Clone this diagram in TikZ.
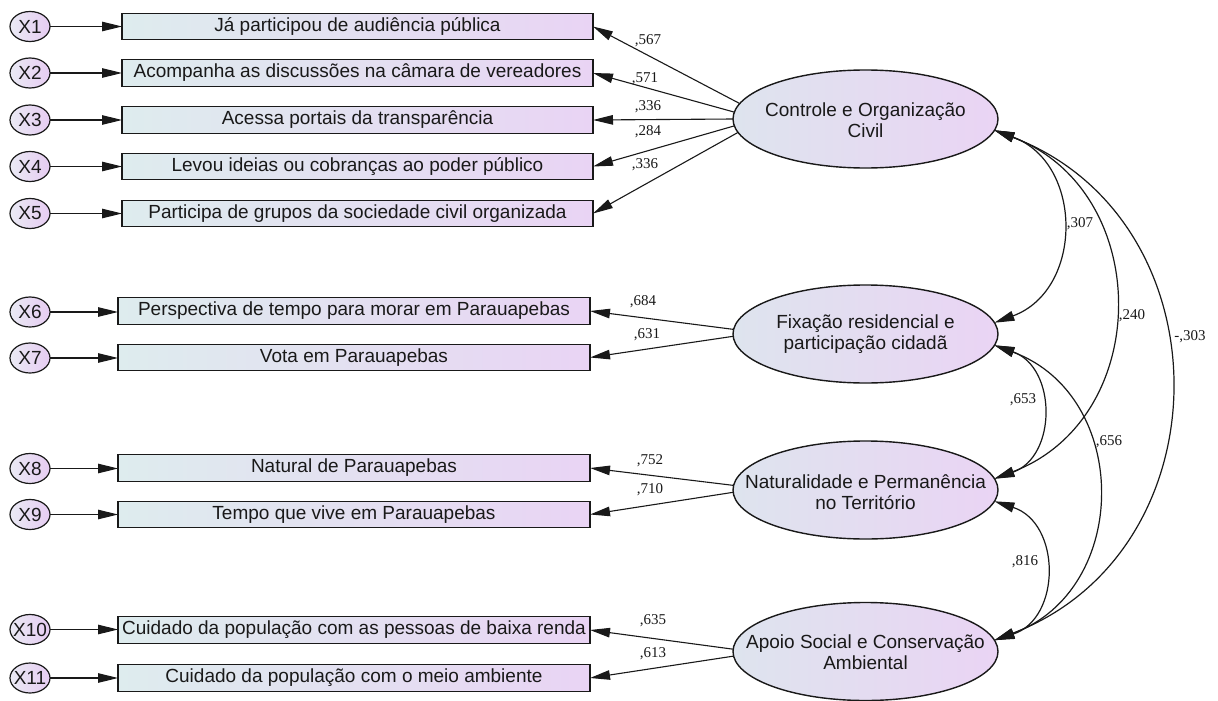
\documentclass[tikz,border=0pt]{standalone}
\usepackage{fontspec}
\setmainfont{Liberation Sans}
\newfontfamily\coeffont{Liberation Serif}
\usetikzlibrary{shapes.geometric,arrows.meta}
\definecolor{boxL}{RGB}{222,236,238}
\definecolor{boxR}{RGB}{233,212,244}
\definecolor{latL}{RGB}{222,228,238}
\definecolor{latR}{RGB}{234,212,244}
\definecolor{errL}{RGB}{234,234,244}
\definecolor{errR}{RGB}{230,204,242}
\definecolor{ink}{RGB}{25,25,25}
\begin{document}
\begin{tikzpicture}[x=1pt,y=1pt,
  obs/.style={draw=ink, line width=1.4pt, left color=boxL, right color=boxR,
    minimum width=472pt, minimum height=26.5pt, inner sep=1pt, outer sep=0pt,
    text=ink, font=\fontsize{19}{22}\selectfont},
  lat/.style={ellipse, draw=ink, line width=1.4pt, left color=latL, right color=latR,
    minimum width=265pt, minimum height=98pt, inner sep=0pt, outer sep=0pt},
  lattext/.style={align=center, text=ink, inner sep=0pt, font=\fontsize{19}{21}\selectfont},
  err/.style={ellipse, draw=ink, line width=1.2pt, left color=errL, right color=errR,
    minimum width=40pt, minimum height=30pt, inner sep=0pt, outer sep=0pt},
  errtext/.style={text=ink, inner sep=0pt, font=\fontsize{19}{21}\selectfont},
  load/.style={draw=ink, line width=1.1pt, -{Triangle[length=20pt,width=9.5pt]}},
  cov/.style={draw=ink, line width=1.2pt, {Triangle[length=20pt,width=10pt]}-{Triangle[length=20pt,width=10pt]}},
  coef/.style={text=ink, inner sep=0pt, font=\coeffont\fontsize{15}{16}\selectfont}
]
\useasboundingbox (0,0) rectangle (1218,-701);

% observed variables
\node[obs, minimum width=471pt] (b1) at (357.5,-26.5) {Já participou de audiência pública};
\node[obs, minimum width=471pt] (b2) at (357.5,-73) {Acompanha as discussões na câmara de vereadores};
\node[obs, minimum width=471pt] (b3) at (357.5,-120) {Acessa portais da transparência};
\node[obs, minimum width=471pt] (b4) at (357.5,-166.5) {Levou ideias ou cobranças ao poder público};
\node[obs, minimum width=471pt] (b5) at (357.5,-213.5) {Participa de grupos da sociedade civil organizada};
\node[obs] (b6) at (354,-311) {Perspectiva de tempo para morar em Parauapebas};
\node[obs] (b7) at (354,-357.5) {Vota em Parauapebas};
\node[obs] (b8) at (354,-468) {Natural de Parauapebas};
\node[obs] (b9) at (354,-514.5) {Tempo que vive em Parauapebas};
\node[obs] (b10) at (354,-630) {Cuidado da população com as pessoas de baixa renda};
\node[obs] (b11) at (354,-678) {Cuidado da população com o meio ambiente};

% error terms
\foreach \i/\y in {1/26.5,2/73,3/120,4/166.5,5/213.5,6/312,7/358,8/468.5,9/514.5,10/629.5,11/678}{
  \node[err, label={[errtext]center:X\i}] (e\i) at (30,-\y) {};
  \draw[load] (e\i) -- (e\i -| b\i.west);
}

% latent variables
\node[lat] (ctrl) at (865.5,-119) {};
\node[lattext] (tctrl) at (865.5,-120) {Controle e Organização\\Civil};
\node[lat] (fix) at (865.5,-334) {};
\node[lattext] (tfix) at (865.5,-334) {Fixação residencial e\\participação cidadã};
\node[lat] (nat) at (865.5,-490) {};
\node[lattext] (tnat) at (865.5,-492) {Naturalidade e Permanência\\no Território};
\node[lat] (apo) at (865.5,-651.5) {};
\node[lattext] (tapo) at (865.5,-652) {Apoio Social e Conservação\\Ambiental};

% loadings
\draw[load] (ctrl.173.7) -- (b1.east);
\draw[load] (ctrl.177) -- (b2.east);
\draw[load] (ctrl.180) -- (b3.east);
\draw[load] (ctrl.183.5) -- (b4.east);
\draw[load] (ctrl.186.3) -- (b5.east);
\draw[load] (fix.178.3) -- (b6.east);
\draw[load] (fix.181.3) -- (b7.east);
\draw[load] (nat.178.7) -- (b8.east);
\draw[load] (nat.181.7) -- (b9.east);
\draw[load] (apo.179) -- (b10.east);
\draw[load] (apo.182.4) -- (b11.east);

\node[coef] (c1) at (648,-41) {,567};
\node[coef] (c2) at (645,-79) {,571};
\node[coef] (c3) at (648,-107) {,336};
\node[coef] (c4) at (648,-132) {,284};
\node[coef] (c5) at (645,-165) {,336};
\node[coef] (c6) at (643,-302) {,684};
\node[coef] (c7) at (647,-335) {,631};
\node[coef] (c8) at (650,-461) {,752};
\node[coef] (c9) at (650,-490) {,710};
\node[coef] (c10) at (653,-621) {,635};
\node[coef] (c11) at (653,-654) {,613};

% covariances (circular arcs)
\draw[cov] (ctrl.-5) to[out=-20.2,in=20.2,looseness=1.267] (fix.5);
\draw[cov] (ctrl.-5) to[out=-20.8,in=20.8,looseness=1.255] (nat.5);
\draw[cov] (ctrl.-5) to[out=-20.9,in=20.9,looseness=1.256] (apo.5);
\draw[cov] (fix.-5) to[out=-19.5,in=19.5,looseness=1.277] (nat.5);
\draw[cov] (fix.-5) to[out=-20.2,in=20.2,looseness=1.267] (apo.5);
\draw[cov] (nat.-5) to[out=-18.1,in=18.1,looseness=1.299] (apo.5);

\node[coef] (r1) at (1080,-224) {,307};
\node[coef] (r2) at (1132,-316) {,240};
\node[coef] (r3) at (1190,-337) {-,303};
\node[coef] (r4) at (1023,-400) {,653};
\node[coef] (r5) at (1109,-442) {,656};
\node[coef] (r6) at (1025,-562) {,816};
\end{tikzpicture}
\end{document}
